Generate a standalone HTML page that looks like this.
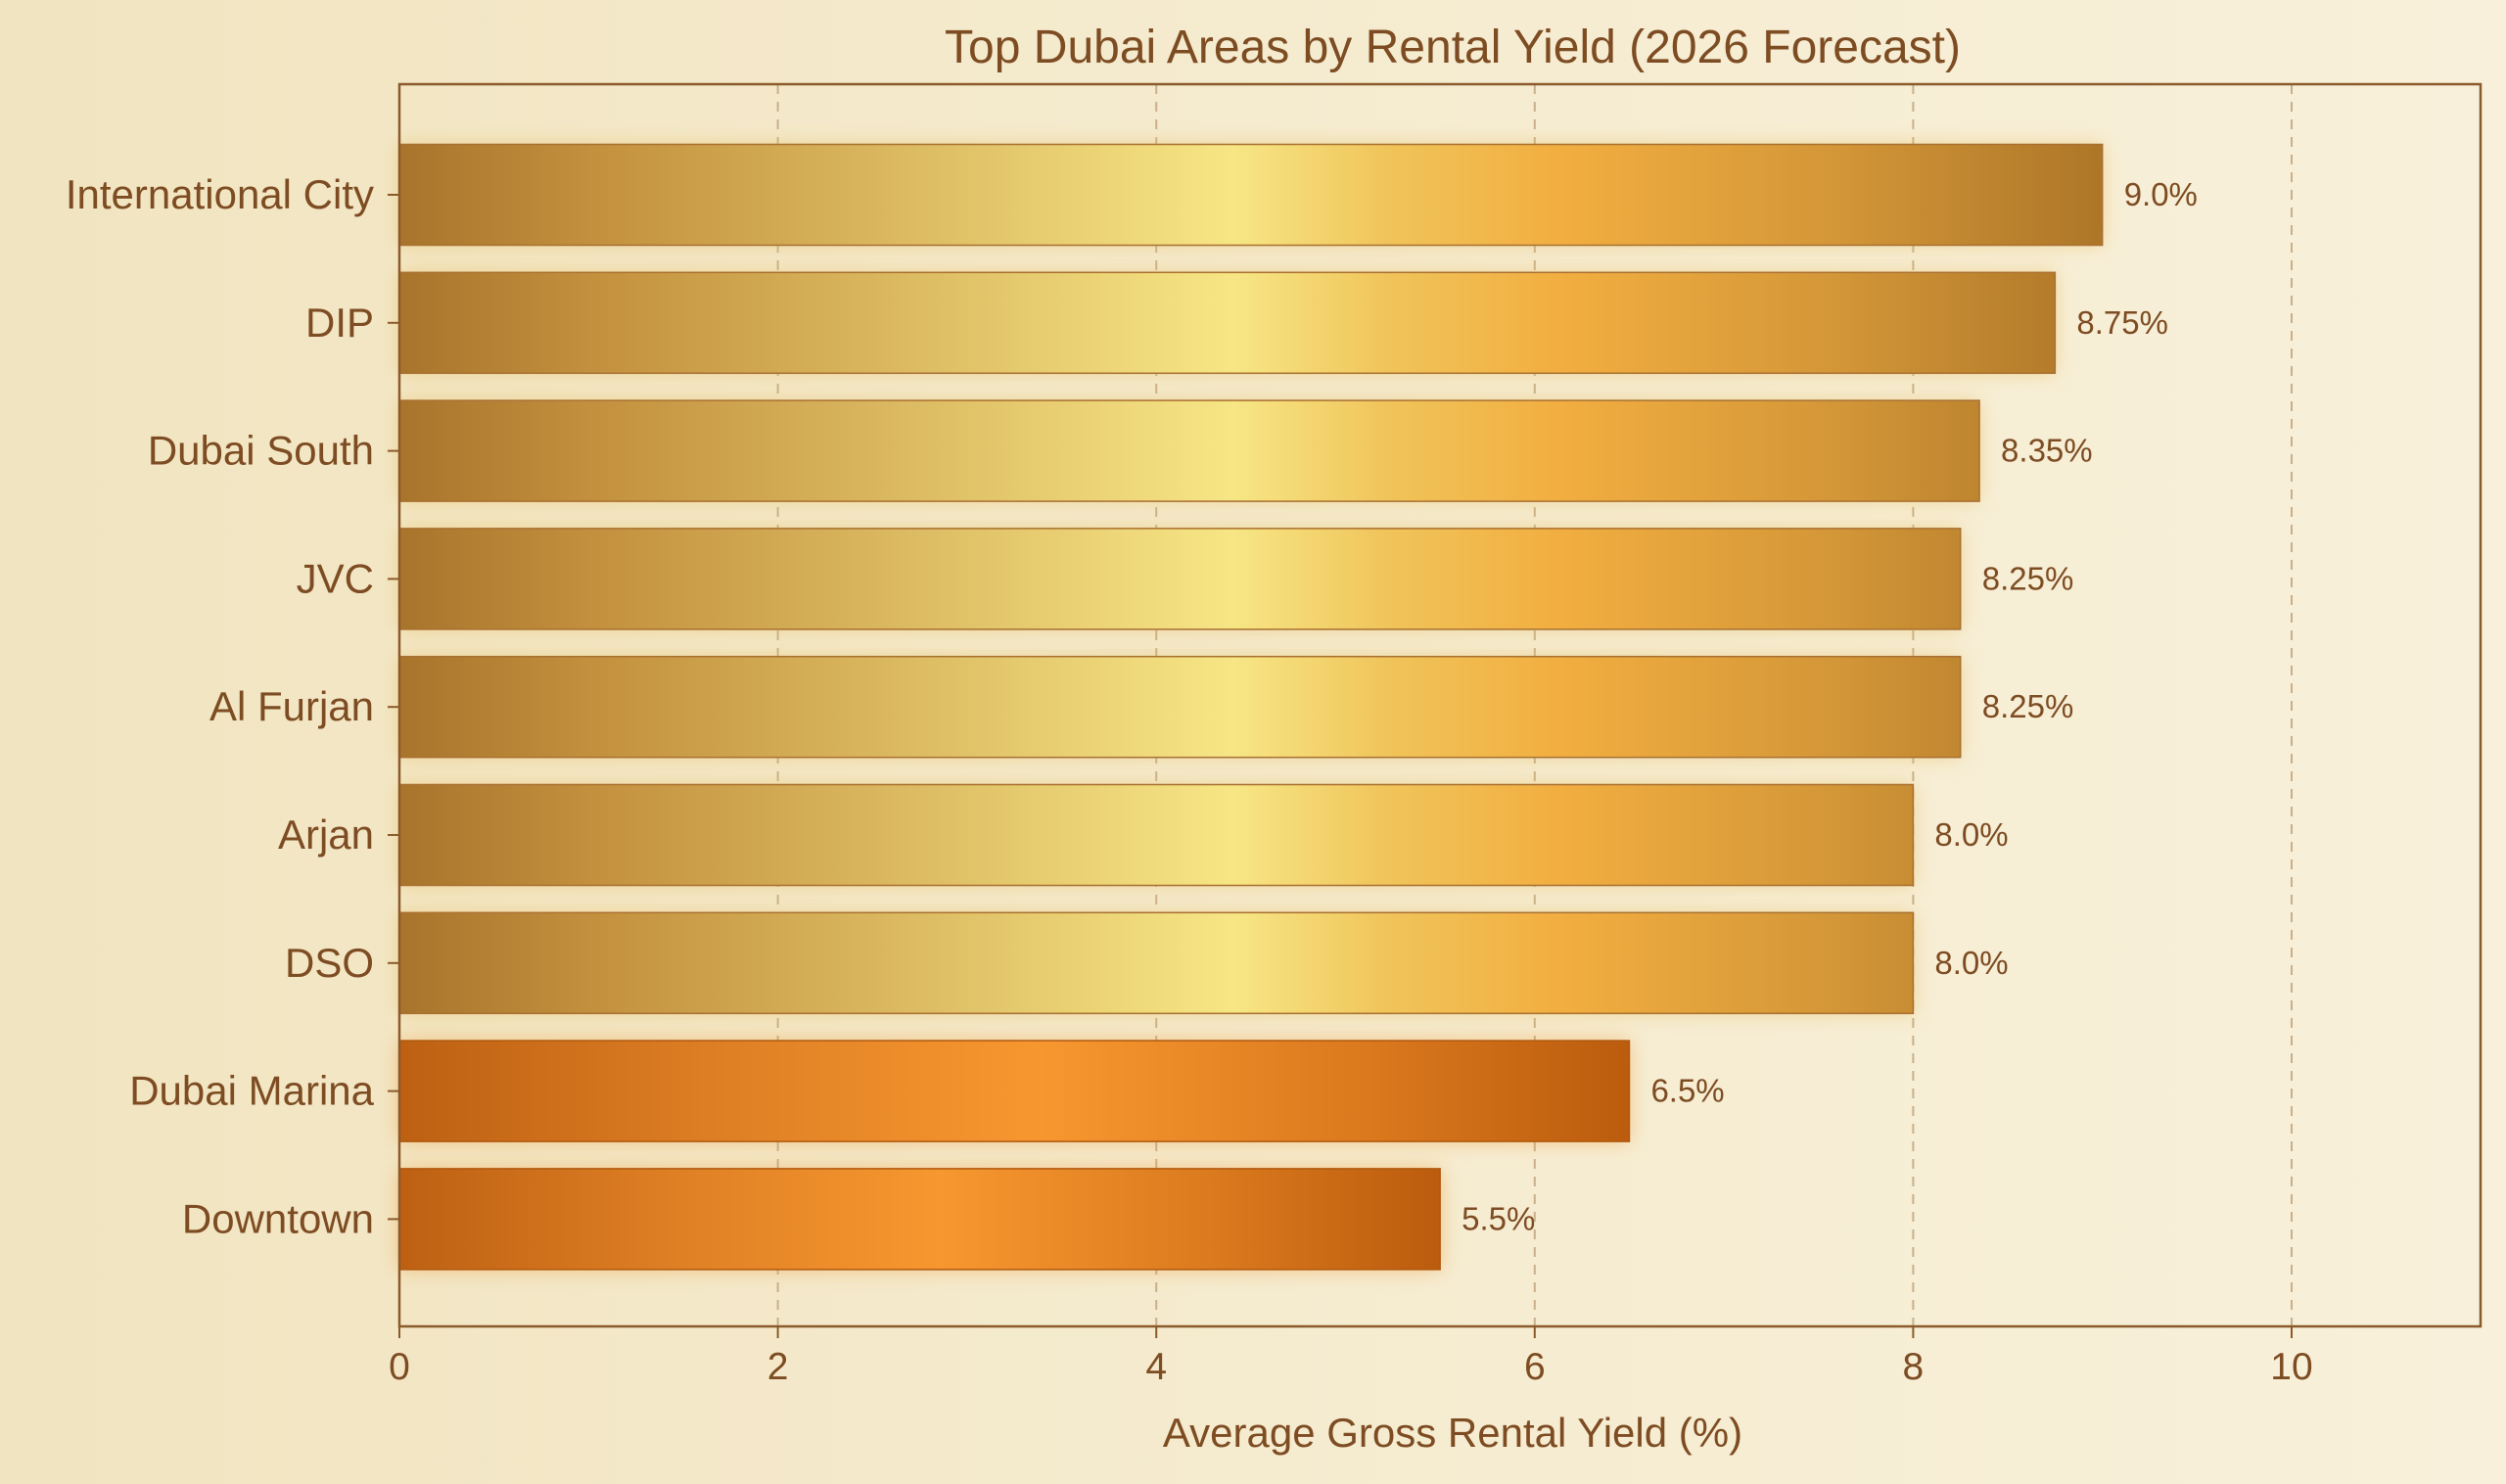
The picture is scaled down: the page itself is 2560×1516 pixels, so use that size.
<!DOCTYPE html>
<html><head><meta charset="utf-8"><style>
body{margin:0;width:2560px;height:1516px;overflow:hidden;background:linear-gradient(90deg,#f1e4c0 0%,#f5ebcf 50%,#f8f0da 100%);font-family:"Liberation Sans",sans-serif;}
svg{display:block}
</style></head><body>
<svg id="chart" width="2560" height="1516">
<defs>
<linearGradient id="gold" gradientUnits="userSpaceOnUse" x1="408" x2="2148" y1="0" y2="0">
<stop offset="0" stop-color="#a8742c"/><stop offset="0.12" stop-color="#c4923f"/><stop offset="0.3" stop-color="#dcbb62"/><stop offset="0.49" stop-color="#f7e685"/><stop offset="0.58" stop-color="#f0c45a"/><stop offset="0.68" stop-color="#f2ae40"/><stop offset="0.84" stop-color="#d49738"/><stop offset="1" stop-color="#ad7628"/>
</linearGradient>
<linearGradient id="orange" x1="0" x2="1" y1="0" y2="0">
<stop offset="0" stop-color="#bd6012"/><stop offset="0.25" stop-color="#dd7e24"/><stop offset="0.52" stop-color="#f7972f"/><stop offset="0.78" stop-color="#db7a1e"/><stop offset="1" stop-color="#bb5c0e"/>
</linearGradient>
<filter id="glow" x="-10%" y="-40%" width="120%" height="180%"><feGaussianBlur stdDeviation="10"/></filter>
</defs>
<g id="grid"></g><g id="bars"></g><g id="axes"></g>
<text x="1484" y="64" text-anchor="middle" font-size="48" fill="#7d4c22">Top Dubai Areas by Rental Yield (2026 Forecast)</text>
<text x="1484" y="1478" text-anchor="middle" font-size="42" fill="#7d4c22">Average Gross Rental Yield (%)</text>
</svg>
<script>
const categories=["International City","DIP","Dubai South","JVC","Al Furjan","Arjan","DSO","Dubai Marina","Downtown"];
const values=[9.0,8.75,8.35,8.25,8.25,8.0,8.0,6.5,5.5];
const valueLabels=["9.0%","8.75%","8.35%","8.25%","8.25%","8.0%","8.0%","6.5%","5.5%"];
const tickValues=[0,2,4,6,8,10];
const L=408,R=2534,T=86,B=1355,xmax=11;
const xs=v=>L+v*(2341-L)/10;
const step=130.8,bh=103,y0=199;
const yc=i=>y0+i*step;
const NS="http://www.w3.org/2000/svg";
function mk(t,a,p){const e=document.createElementNS(NS,t);for(const k in a)e.setAttribute(k,a[k]);p.appendChild(e);return e;}
const grid=document.getElementById('grid'),bars=document.getElementById('bars'),axes=document.getElementById('axes');
tickValues.forEach(v=>{if(v>0){const g=mk('line',{x1:xs(v),x2:xs(v),y1:T,y2:B,stroke:'#c9b08a','stroke-width':2,'stroke-dasharray':'10,8'},grid);

}
const t=mk('text',{x:xs(v),y:B+54,'text-anchor':'middle','font-size':39,fill:'#7d4c22'},axes);t.textContent=v;


mk('line',{x1:xs(v),x2:xs(v),y1:B,y2:B+12,stroke:'#8b5a2b','stroke-width':2},axes);});
categories.forEach((c,i)=>{const orange=i>=7;const w=xs(values[i])-L;const y=yc(i)-bh/2;
mk('rect',{x:L,y:y,width:w,height:bh,fill:orange?'#f0a040':'#e8c060',opacity:0.55,filter:'url(#glow)'},bars);
const r=mk('rect',{x:L,y:y,width:w,height:bh,fill:orange?'url(#orange)':'url(#gold)',stroke:orange?'#b0580e':'#a87030','stroke-width':1.5},bars);


const vl=mk('text',{x:xs(values[i])+22,y:yc(i)+11,'font-size':33,fill:'#7d4c22'},bars);vl.textContent=valueLabels[i];


const cl=mk('text',{x:L-26,y:yc(i)+14,'text-anchor':'end','font-size':42,fill:'#7d4c22'},axes);cl.textContent=c;


mk('line',{x1:L-12,x2:L,y1:yc(i),y2:yc(i),stroke:'#8b5a2b','stroke-width':2},axes);});
const fr=mk('rect',{x:L,y:T,width:R-L,height:B-T,fill:'none',stroke:'#8b5a2b','stroke-width':2.5},axes);


</script>
</body></html>
